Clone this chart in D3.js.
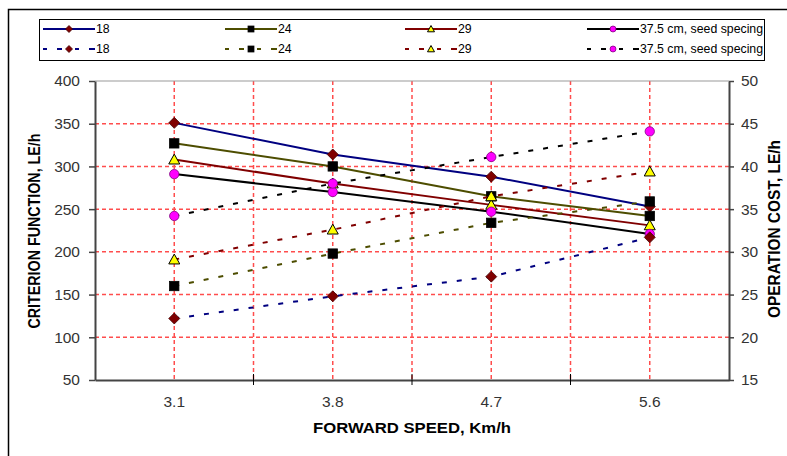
<!DOCTYPE html>
<html>
<head>
<meta charset="utf-8">
<script src="https://cdn.jsdelivr.net/npm/d3@7"></script>
<style>
  html, body { margin: 0; padding: 0; background: #fff; }
  svg { display: block; font-family: "Liberation Sans", Arial, sans-serif; }
</style>
</head>
<body>
<svg id="chart" width="787" height="456"></svg>
<script>
// ---------- DATA ----------
const categories = ["3.1", "3.8", "4.7", "5.6"];
const seriesNames = ["18", "24", "29", "37.5 cm, seed specing"];
// Criterion function, LE/h (left axis, solid lines)
const criterion18 = [351, 314, 288, 253];
const criterion24 = [327, 300, 265, 242];
const criterion29 = [308, 280, 255, 231];
const criterion375 = [291, 270, 247, 221];
// Operation cost, LE/h (right axis, dashed lines)
const cost18 = [22.2, 24.8, 27.1, 31.7];
const cost24 = [26.0, 29.8, 33.4, 35.9];
const cost29 = [29.1, 32.6, 36.5, 39.4];
const cost375 = [34.2, 38.0, 41.1, 44.1];
const leftTicks = [50, 100, 150, 200, 250, 300, 350, 400];
const rightTicks = [15, 20, 25, 30, 35, 40, 45, 50];
const xTitle = "FORWARD SPEED, Km/h";
const yLeftTitle = "CRITERION FUNCTION, LE/h";
const yRightTitle = "OPERATION COST, LE/h";

// ---------- STYLES ----------
const lineColors = ["#000080", "#4d4d00", "#800000", "#000000"];
const markerTypes = ["diamond", "square", "triangle", "circle"];
const markerFill = ["#800000", "#000000", "#ffff00", "#ff00ff"];
const markerStroke = ["#400000", "#000000", "#000000", "#800080"];

const svg = d3.select("#chart");
const L = 95, R = 729, T = 81, B = 380;

const x = d3.scaleBand().domain(categories).range([L, R]).padding(0);
const cx = c => x(c) + x.bandwidth() / 2;
const yL = d3.scaleLinear().domain([50, 400]).range([B, T]);
const yR = d3.scaleLinear().domain([15, 50]).range([B, T]);

// outer frame
svg.append("rect").attr("x", 8.5).attr("y", 9.5).attr("width", 800).attr("height", 470)
  .attr("fill", "none").attr("stroke", "#000").attr("stroke-width", 1.5);

// gridlines
const grid = svg.append("g");
leftTicks.filter(v => v > 50 && v < 400).forEach(v => {
  grid.append("line").attr("x1", L).attr("x2", R).attr("y1", yL(v)).attr("y2", yL(v))
    .attr("stroke", "#ff4d4d").attr("stroke-width", 1.5).attr("stroke-dasharray", "4,3");
});
const vGrid = categories.map(cx).concat(categories.slice(1).map(c => x(c)));
vGrid.forEach(px => {
  grid.append("line").attr("x1", px).attr("x2", px).attr("y1", T).attr("y2", B)
    .attr("stroke", "#ff4d4d").attr("stroke-width", 1.5).attr("stroke-dasharray", "4,3");
});
// plot top border
svg.append("line").attr("x1", L).attr("x2", R).attr("y1", T).attr("y2", T)
  .attr("stroke", "#999").attr("stroke-width", 1);

// axes
const leftAxis = svg.append("g").attr("transform", `translate(${L},0)`)
  .call(d3.axisLeft(yL).tickValues(leftTicks).tickSizeInner(6).tickSizeOuter(0).tickPadding(9));
const rightAxis = svg.append("g").attr("transform", `translate(${R},0)`)
  .call(d3.axisRight(yR).tickValues(rightTicks).tickSizeInner(5).tickSizeOuter(0).tickPadding(7));
const bottomAxis = svg.append("g").attr("transform", `translate(0,${B})`)
  .call(d3.axisBottom(x).tickSize(0).tickPadding(16));
bottomAxis.selectAll(".tick line").remove();
categories.slice(1).forEach(c => {
  bottomAxis.append("line").attr("x1", x(c)).attr("x2", x(c)).attr("y1", -6).attr("y2", 5)
    .attr("stroke", "#000").attr("stroke-width", 1);
});
[leftAxis, rightAxis, bottomAxis].forEach(g => {
  g.select(".domain").attr("stroke", "#444").attr("stroke-width", 2);
  g.selectAll(".tick line").attr("stroke", "#444").attr("stroke-width", 1.5);
  g.selectAll(".tick text").attr("fill", "#333").attr("font-size", 15.5)
    .attr("font-family", "'Liberation Sans', Arial, sans-serif");
});

// axis titles
svg.append("text").attr("x", 412).attr("y", 433).attr("text-anchor", "middle")
  .attr("font-size", 15).attr("font-weight", "bold").attr("textLength", 198)
  .attr("lengthAdjust", "spacingAndGlyphs").text(xTitle);
svg.append("text").attr("transform", "translate(40,231) rotate(-90)").attr("text-anchor", "middle")
  .attr("font-size", 16).attr("font-weight", "bold").attr("textLength", 195)
  .attr("lengthAdjust", "spacingAndGlyphs").text(yLeftTitle);
svg.append("text").attr("transform", "translate(780,229) rotate(-90)").attr("text-anchor", "middle")
  .attr("font-size", 16).attr("font-weight", "bold").attr("textLength", 178)
  .attr("lengthAdjust", "spacingAndGlyphs").text(yRightTitle);

// marker helper
function drawMarker(g, type, px, py, size, fill, stroke) {
  const s = size / 2;
  if (type === "diamond") {
    g.append("path").attr("d", `M${px},${py - s}L${px + s},${py}L${px},${py + s}L${px - s},${py}Z`)
      .attr("fill", fill).attr("stroke", stroke).attr("stroke-width", 0.8);
  } else if (type === "square") {
    const q = s * 0.85;
    g.append("rect").attr("x", px - q).attr("y", py - q).attr("width", 2 * q).attr("height", 2 * q)
      .attr("fill", fill).attr("stroke", stroke).attr("stroke-width", 0.8);
  } else if (type === "triangle") {
    g.append("path").attr("d", `M${px},${py - s}L${px + s},${py + s * 0.8}L${px - s},${py + s * 0.8}Z`)
      .attr("fill", fill).attr("stroke", stroke).attr("stroke-width", 1);
  } else {
    g.append("circle").attr("cx", px).attr("cy", py).attr("r", s * 0.85)
      .attr("fill", fill).attr("stroke", stroke).attr("stroke-width", 0.8);
  }
}

const solidSeries = [criterion18, criterion24, criterion29, criterion375];
const dashedSeries = [cost18, cost24, cost29, cost375];
const line = d3.line();

function drawSeries(values, i, scale, dashed) {
  const g = svg.append("g");
  const pts = values.map((v, k) => [cx(categories[k]), scale(v)]);
  g.append("path").attr("d", line(pts)).attr("fill", "none")
    .attr("stroke", lineColors[i]).attr("stroke-width", 2)
    .attr("stroke-dasharray", dashed ? "5,10" : null);
  pts.forEach(p => drawMarker(g, markerTypes[i], p[0], p[1], 11, markerFill[i], markerStroke[i]));
}
solidSeries.forEach((s, i) => drawSeries(s, i, yL, false));
dashedSeries.forEach((s, i) => drawSeries(s, i, yR, true));

// legend
const lg = svg.append("g");
lg.append("rect").attr("x", 39.5).attr("y", 19.5).attr("width", 725).attr("height", 41)
  .attr("fill", "#fff").attr("stroke", "#000").attr("stroke-width", 1);
const legendX = [43, 225, 405, 587];
const rowsY = [29, 49];
[false, true].forEach((dashed, r) => {
  seriesNames.forEach((name, i) => {
    const x0 = legendX[i], y0 = rowsY[r];
    if (dashed) {
      [[0, 4], [14, 19], [32, 36], [46, 52]].forEach(d => {
        lg.append("line").attr("x1", x0 + d[0]).attr("x2", x0 + d[1]).attr("y1", y0).attr("y2", y0)
          .attr("stroke", lineColors[i]).attr("stroke-width", 2);
      });
    } else {
      lg.append("line").attr("x1", x0).attr("x2", x0 + 52).attr("y1", y0).attr("y2", y0)
        .attr("stroke", lineColors[i]).attr("stroke-width", 2);
    }
    drawMarker(lg, markerTypes[i], x0 + 26, y0, 7, markerFill[i], markerStroke[i]);
    lg.append("text").attr("x", x0 + 53).attr("y", y0 + 4).attr("font-size", 12.3)
      .attr("fill", "#000").text(name);
  });
});
</script>
</body>
</html>
